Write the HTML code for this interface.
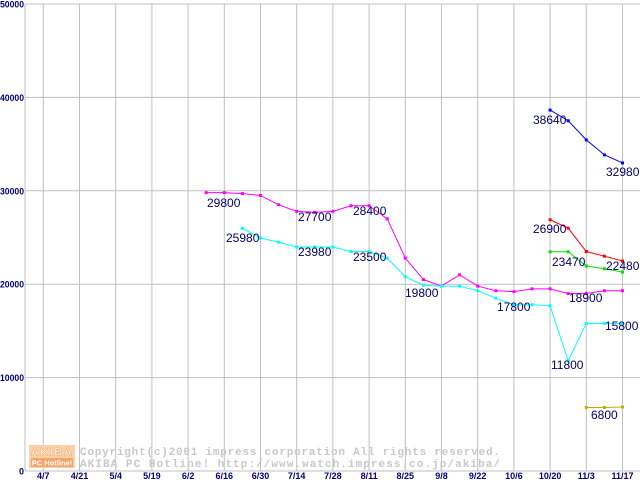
<!DOCTYPE html>
<html><head><meta charset="utf-8"><style>
body{margin:0;background:#fff;}
svg{display:block;font-family:"Liberation Sans",sans-serif;}
</style></head><body>
<svg id="chart" width="640" height="480" viewBox="0 0 640 480">
<g id="grid"></g>
<g id="logo">
<rect x="29" y="445" width="46" height="12" fill="#fcd0a8"/>
<text x="52" y="455.5" font-size="11" font-weight="bold" fill="#fff" stroke="#f0a060" stroke-width="0.5" text-anchor="middle" letter-spacing="1.5">AKIBA</text>
<rect x="29" y="457" width="46" height="11" fill="#fcd0a8"/>
<rect x="31" y="458" width="42" height="9" fill="#f5a468"/>
<text x="52" y="465.5" font-size="7.5" font-weight="bold" fill="#fff" text-anchor="middle">PC Hotline!</text>
</g>
<text x="80" y="455" font-family="Liberation Mono,monospace" font-size="11" font-weight="bold" fill="#c8c8c8" textLength="420">Copyright(c)2001 impress corporation All rights reserved.</text>
<text x="80" y="467" font-family="Liberation Mono,monospace" font-size="11" font-weight="bold" fill="#c8c8c8" textLength="420">AKIBA PC Hotline!  http://www.watch.impress.co.jp/akiba/</text>
<g id="series"></g>
<g id="labels" font-size="12" fill="#000066">
<text x="207" y="207">29800</text>
<text x="226" y="242">25980</text>
<text x="298" y="221">27700</text>
<text x="298" y="256">23980</text>
<text x="353" y="215">28400</text>
<text x="353" y="261">23500</text>
<text x="405" y="297">19800</text>
<text x="497" y="311">17800</text>
<text x="569" y="302">18900</text>
<text x="551" y="369">11800</text>
<text x="605" y="330">15800</text>
<text x="591" y="419">6800</text>
<text x="533" y="124">38640</text>
<text x="606" y="176">32980</text>
<text x="533" y="233">26900</text>
<text x="552" y="266">23470</text>
<text x="606" y="270">22480</text>
</g>
</svg>
<script>
const tickLabels=["4/7","4/21","5/4","5/19","6/2","6/16","6/30","7/14","7/28","8/11","8/25","9/8","9/22","10/6","10/20","11/3","11/17"];
const yTicks=[0,10000,20000,30000,40000,50000];
const magentaStart=9;
const magenta=[29800,29800,29700,29500,28500,27800,27700,27800,28400,28400,27000,22800,20500,19800,21000,19800,19300,19200,19500,19500,19000,19000,19300,19300];
const cyanStart=11;
const cyan=[25980,24950,24500,23980,23980,23980,23500,23500,22800,20800,19900,19800,19800,19300,18500,17800,17800,17700,11800,15800,15800,15800];
const blueStart=28;
const blue=[38640,37500,35450,33850,32980];
const redStart=28;
const red=[26900,26000,23500,23000,22480];
const greenStart=28;
const green=[23470,23470,21950,21650,21300];
const oliveStart=30;
const olive=[6800,6800,6850];

const NS="http://www.w3.org/2000/svg";
const X0=43.3, WK=18.1, Y0=471, YH=93.4;
function xs(w){return X0+w*WK;}
function ys(v){return Y0-v/10000*YH;}
function mk(tag,attrs,parent){const e=document.createElementNS(NS,tag);for(const k in attrs)e.setAttribute(k,attrs[k]);parent.appendChild(e);return e;}
const grid=document.getElementById('grid');
yTicks.forEach(v=>{
  const l=mk('line',{x1:25,x2:640,y1:ys(v),y2:ys(v),stroke:'#c0c0c0','stroke-width':1},grid);
  
  
  const s=String(v);
  const attrs={x:24,y:ys(v)+3.5,'font-size':9,'font-weight':'bold',fill:'#000080','text-anchor':'end'};
  if(s.length>1){attrs.textLength=s.length*4.8;attrs.lengthAdjust='spacingAndGlyphs';}
  const t=mk('text',attrs,grid);
  t.textContent=s;
  
  
});
tickLabels.forEach((s,i)=>{
  const x=xs(i*2);
  const l=mk('line',{x1:x,x2:x,y1:4,y2:471,stroke:'#c0c0c0','stroke-width':1},grid);
  
  
  const t=mk('text',{x:x,y:479,'font-size':9,'font-weight':'bold',fill:'#000080','text-anchor':'middle'},grid);
  t.textContent=s;
  
  
});
const ax=mk('line',{x1:25,x2:25,y1:4,y2:471,stroke:'#c0c0c0','stroke-width':1},grid);


const sg=document.getElementById('series');
function draw(name,start,vals,color){
  const pts=vals.map((v,i)=>[xs(start+i),ys(v)]);
  const p=mk('polyline',{points:pts.map(p=>p.join(',')).join(' '),fill:'none',stroke:color,'stroke-width':1},sg);
  
  
  pts.forEach(q=>{
    const r=mk('rect',{x:q[0]-1.5,y:q[1]-1.5,width:3,height:3,fill:color},sg);
    
    
  });
}
draw('magenta',magentaStart,magenta,'#ff00ff');
draw('cyan',cyanStart,cyan,'#00ffff');
draw('blue',blueStart,blue,'#0000ff');
draw('red',redStart,red,'#ff0000');
draw('green',greenStart,green,'#00e000');
draw('olive',oliveStart,olive,'#c0b000');
</script>
</body></html>
